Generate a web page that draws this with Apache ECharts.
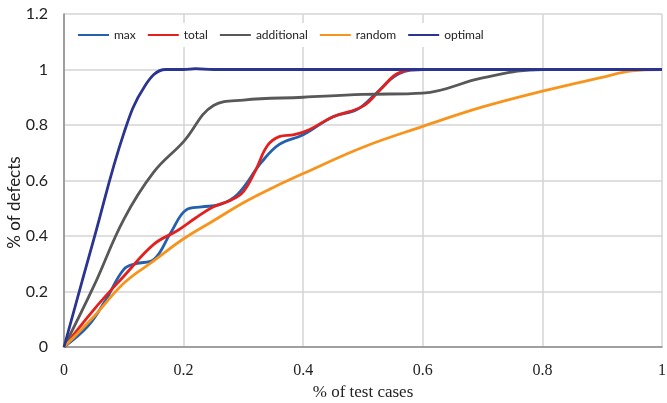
<!DOCTYPE html>
<html>
<head>
<meta charset="utf-8">
<script src="https://cdn.jsdelivr.net/npm/echarts@6/dist/echarts.min.js"></script>
<style>html,body{margin:0;padding:0;background:#fff}#c{width:667px;height:403px}</style>
</head>
<body>
<div id="c"></div>
<script>
var seriesNames = ['max', 'total', 'additional', 'random', 'optimal'];
var seriesColors = ['#2460AE', '#E2211F', '#585858', '#F7941D', '#2B3590'];
var xTicks = [0, 0.2, 0.4, 0.6, 0.8, 1];
var yTicks = [0, 0.2, 0.4, 0.6, 0.8, 1, 1.2];

var maxData = [[0,0],[0.04,0.075],[0.07,0.17],[0.1,0.28],[0.12,0.30],[0.15,0.315],[0.178,0.41],[0.205,0.495],[0.23,0.505],[0.26,0.513],[0.29,0.55],[0.33,0.665],[0.36,0.73],[0.4,0.765],[0.45,0.83],[0.49,0.856],[0.52,0.91],[0.56,0.985],[0.6,1],[0.8,1],[1,1]];
var totalData = [[0,0],[0.05,0.135],[0.1,0.255],[0.15,0.37],[0.19,0.42],[0.22,0.465],[0.25,0.505],[0.28,0.53],[0.3,0.56],[0.32,0.635],[0.34,0.725],[0.36,0.758],[0.385,0.765],[0.41,0.783],[0.45,0.83],[0.5,0.868],[0.53,0.93],[0.56,0.988],[0.6,1],[0.8,1],[1,1]];
var additionalData = [[0,0],[0.05,0.22],[0.1,0.46],[0.15,0.63],[0.2,0.74],[0.25,0.87],[0.3,0.89],[0.4,0.90],[0.5,0.91],[0.6,0.915],[0.7,0.97],[0.8,1.0],[0.9,1],[1,1]];
var randomData = [[0,0],[0.05,0.11],[0.1,0.23],[0.15,0.31],[0.2,0.39],[0.25,0.455],[0.3,0.52],[0.35,0.575],[0.4,0.625],[0.5,0.72],[0.6,0.795],[0.7,0.865],[0.8,0.922],[0.9,0.972],[0.95,0.995],[1,1]];
var optimalData = [[0,0],[0.05,0.39],[0.1,0.77],[0.135,0.94],[0.17,1.0],[0.2,1.0],[0.22,1.003],[0.25,1.0],[0.5,1],[0.8,1],[1,1]];

var allData = [maxData, totalData, additionalData, randomData, optimalData];

var chart = echarts.init(document.getElementById('c'));
var series = seriesNames.map(function (n, i) {
  return {
    name: n,
    type: 'line',
    data: allData[i],
    smooth: 0.4,
    symbol: 'none',
    lineStyle: { color: seriesColors[i], width: 2.8 },
    itemStyle: { color: seriesColors[i] },
    z: 2 + i
  };
});
chart.setOption({
  animation: false,
  backgroundColor: '#fff',
  grid: { left: 64, right: 5, top: 14, bottom: 56, containLabel: false, outerBoundsMode: 'none' },
  legend: {
    left: 72, top: 23,
    data: seriesNames,
    icon: 'rect',
    itemWidth: 31, itemHeight: 2,
    itemGap: 12,
    backgroundColor: '#fff',
    padding: [6, 6],
    textStyle: { fontFamily: 'Lato', fontSize: 12, color: '#222' }
  },
  xAxis: {
    type: 'value', min: 0, max: 1, interval: 0.2,
    name: '% of test cases', nameLocation: 'middle', nameGap: 37,
    nameTextStyle: { fontFamily: 'Liberation Serif', fontSize: 17, color: '#222' },
    axisLine: { show: true, lineStyle: { color: '#8a8a8a', width: 1.5 } },
    axisTick: { show: false },
    axisLabel: { fontFamily: 'Liberation Serif', fontSize: 16, color: '#222', margin: 16,
      formatter: function (v) { return String(+v.toFixed(1)); } },
    splitLine: { show: true, lineStyle: { color: '#d4d4d4', width: 1.5 } }
  },
  yAxis: {
    type: 'value', min: 0, max: 1.2, interval: 0.2,
    name: '% of defects', nameLocation: 'middle', nameGap: 41, nameMoveOverlap: false,
    nameTextStyle: { fontFamily: 'Lato', fontSize: 17, color: '#222', padding: [0, 44, 0, 0] },
    axisLine: { show: true, lineStyle: { color: '#8a8a8a', width: 1.5 } },
    axisTick: { show: false },
    axisLabel: { fontFamily: 'Lato', fontSize: 16, color: '#222', margin: 16,
      formatter: function (v) { return String(+v.toFixed(1)); } },
    splitLine: { show: true, lineStyle: { color: '#d4d4d4', width: 1.5 } }
  },
  series: series
});
</script>
</body>
</html>
